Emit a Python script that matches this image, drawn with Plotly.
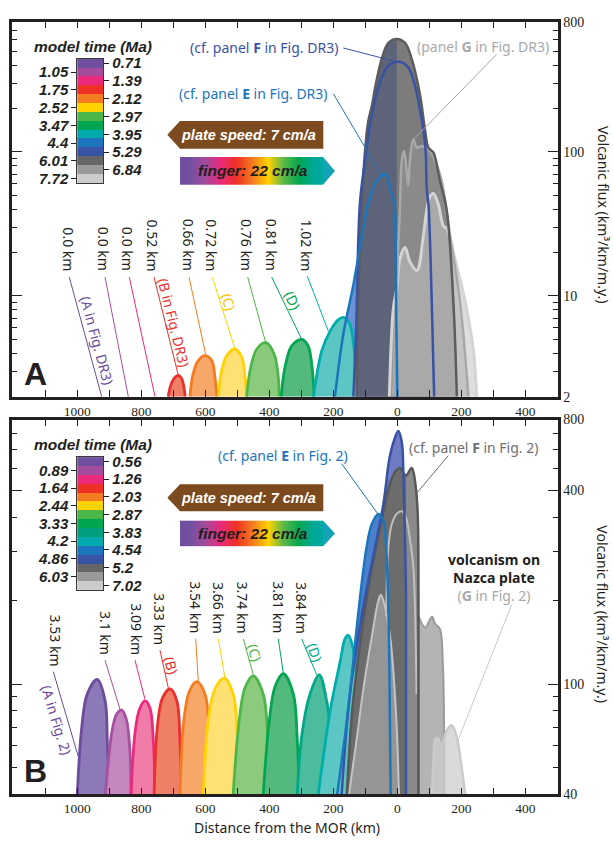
import plotly.graph_objects as go

W, H = 613, 842
SANS = "Noto Sans"
SERIF = "Liberation Serif"
ARIAL = "Liberation Sans"
INK = "#231f20"

# ---------------- colours ----------------
PURPLE, PURPLE_F = "#6b4c9a", "#8d79b7"
VIOLET, VIOLET_F = "#a84f9f", "#c386be"
PINK, PINK_F = "#ec2a7c", "#f17ca9"
RED, RED_F = "#e9302d", "#ef7f66"
ORANGE, ORANGE_F = "#f47b20", "#f7a869"
YELLOW, YELLOW_F = "#ffd200", "#ffe073"
LGREEN, LGREEN_F = "#4cb748", "#8cca7e"
GREEN, GREEN_F = "#00a651", "#53b97f"
TGREEN, TGREEN_F = "#00a888", "#4bbc9d"
TEAL, TEAL_F = "#00adad", "#5cc6c4"
BLUE = "#1b75bc"
DKBLUE = "#3953a4"

A_LEGEND_COLORS = ["#6f4fa0", "#a54c9c", "#ec2a7c", "#ee3124", "#f47b20", "#ffd200", "#4cb748",
                   "#00a651", "#00a9ac", "#1c75bc", "#3953a4", "#666666", "#999999", "#cccccc"]
B_LEGEND_COLORS = ["#6f4fa0", "#a54c9c", "#ec2a7c", "#ee3124", "#f47b20", "#ffd200", "#4cb748",
                   "#00a651", "#00a07f", "#00a9ac", "#1c75bc", "#3953a4", "#666666", "#999999", "#cccccc"]
FINGER_GRADIENT = ["#6f4fa0", "#a04b9c", "#e92a7b", "#ee3124", "#f47b20", "#ffd200", "#5cb848",
                   "#00a651", "#00a9a0"]

# ---------------- legend / tick text ----------------
A_TIME_RIGHT = ["0.71", "1.39", "2.12", "2.97", "3.95", "5.29", "6.84"]
A_TIME_LEFT = ["1.05", "1.75", "2.52", "3.47", "4.4", "6.01", "7.72"]
B_TIME_RIGHT = ["0.56", "1.26", "2.03", "2.87", "3.83", "4.54", "5.2", "7.02"]
B_TIME_LEFT = ["0.89", "1.64", "2.44", "3.33", "4.2", "4.86", "6.03"]

A_DEPTH_LABELS = ["0.0 km", "0.0 km", "0.0 km", "0.52 km", "0.66 km", "0.72 km", "0.76 km", "0.81 km", "1.02 km"]
B_DEPTH_LABELS = ["3.53 km", "3.1 km", "3.09 km", "3.33 km", "3.54 km", "3.66 km", "3.74 km", "3.81 km", "3.84 km"]

X_TICKS = [1000, 800, 600, 400, 200, 0, -200, -400]
X_TICKTEXT = ["1000", "800", "600", "400", "200", "0", "200", "400"]
X_MINOR = [1100, 900, 700, 500, 300, 100, -100, -300]

A_Y_TICKS = [2, 10, 100, 800]
A_Y_TICKTEXT = ["2", "10", "100", "800"]
A_Y_MINOR = [3, 4, 5, 6, 7, 8, 9, 20, 30, 40, 50, 60, 70, 80, 90, 200, 300, 400, 500, 600, 700]
B_Y_TICKS = [40, 100, 500, 900]
B_Y_TICKTEXT = ["40", "100", "400", "800"]
B_Y_MINOR = [50, 60, 70, 80, 90, 200, 300, 400, 600, 700, 800]

A_FLOOR, A_TOP = 2, 800
B_FLOOR, B_TOP = 40, 900

# ---------------- panel A data (distance km, left of MOR positive; flux) ----------------
A_RED_D = [716, 708, 698, 684, 674, 667, 663]
A_RED_V = [2, 2.4, 2.67, 2.81, 2.67, 2.34, 2]
A_ORANGE_D = [648, 638, 622, 601, 580, 570, 564]
A_ORANGE_V = [2, 2.89, 3.56, 3.85, 3.56, 2.74, 2]
A_YELLOW_D = [559, 549, 533, 507, 486, 476, 471]
A_YELLOW_V = [2, 3.04, 3.85, 4.28, 3.75, 2.74, 2]
A_LGREEN_D = [471, 458, 439, 411, 385, 372, 369]
A_LGREEN_V = [2, 3.2, 4.28, 4.74, 3.95, 2.74, 2]
A_GREEN_D = [363, 351, 330, 299, 279, 267, 260]
A_GREEN_V = [2, 3.2, 4.51, 5.0, 4.51, 3.29, 2]
A_TEAL_D = [262, 236, 210, 184, 169, 150, 137, 129, 125]
A_TEAL_V = [2, 4.17, 5.7, 6.85, 7.1, 6.5, 4.63, 2.89, 2]
A_BLUE_D = [195, 169, 137.5, 111, 91, 70, 49, 35, 21, 10, 4, 0]
A_BLUE_V = [2, 5.4, 11.9, 26, 44, 60, 68.5, 69.6, 54, 44, 9.1, 2]
A_DKBLUE_D = [137.5, 129, 117, 101, 80, 54, 28, -5, -34, -55, -73, -87, -92, -97, -107.5, -115]
A_DKBLUE_V = [2, 5.7, 43.9, 86.7, 181, 305, 396, 422, 386, 289, 181, 113, 54, 43.9, 9.1, 2]
A_DKGREY_D = [127, 122, 111, 101, 91, 79, 70, 49, 28, 2, -24, -45, -71, -87, -97, -112.5, -133, -154, -175, -186]
A_DKGREY_V = [2, 9.1, 41.7, 101.5, 163, 211, 275, 440, 571, 608, 571, 440, 247, 139, 107, 99, 63, 39.5, 9.1, 2]
A_MGREY_D = [13, 4, -2, -8, -14, -21, -29, -34, -40, -50, -61, -76, -97, -133, -165, -196, -222]
A_MGREY_V = [2, 9.1, 20, 39.5, 87, 101.5, 74, 58.6, 91.5, 122, 107, 110, 104, 70, 26, 9.1, 2]
A_LGREY_D = [25, 12.5, 2, -8, -24, -40, -61, -81, -92, -102, -112.5, -127, -144, -155, -180, -212, -237.5, -248]
A_LGREY_V = [2, 8.2, 11.3, 18, 21.7, 17.1, 15, 26, 39.5, 49, 51.4, 43.9, 30.5, 29.2, 18, 9.1, 4.2, 2]

# ---------------- panel B data ----------------
B_PURPLE_D = [1000, 986, 969, 938, 913, 906, 900]
B_PURPLE_V = [40, 70, 92, 104, 87, 61, 40]
B_VIOLET_D = [912, 893, 877, 861, 846, 835, 832]
B_VIOLET_V = [40, 66, 78, 80.5, 74, 56, 40]
B_PINK_D = [832, 820, 806, 788, 773, 762, 757]
B_PINK_V = [40, 66, 81, 87, 82, 61, 40]
B_RED_D = [760, 750, 734, 710, 689, 679, 674]
B_RED_V = [40, 70, 89, 96, 87, 61, 40]
B_ORANGE_D = [679, 667, 650, 627, 601, 588, 583]
B_ORANGE_V = [40, 74, 94, 102, 92, 66, 40]
B_YELLOW_D = [606, 591, 570, 541, 513, 500, 497]
B_YELLOW_V = [40, 74, 96, 105, 92, 66, 40]
B_LGREEN_D = [513, 494, 476, 450, 419, 405, 400]
B_LGREEN_V = [40, 74, 97, 107, 92, 64, 40]
B_GREEN_D = [419, 400, 382, 356, 325, 313, 307]
B_GREEN_V = [40, 74, 98, 109, 92, 64, 40]
B_TGREEN_D = [313, 298, 273, 244, 221, 205, 195]
B_TGREEN_V = [40, 66, 92, 108, 87, 61, 40]
B_TEAL_D = [247, 210, 179, 163, 153, 138, 122, 111, 106]
B_TEAL_V = [40, 80, 120, 146, 150, 134, 85, 53, 40]
B_BLUE_D = [188, 163, 142, 123, 96, 80, 59, 44, 35, 27.5, 24, 21]
B_BLUE_V = [40, 66, 108, 176, 312, 377, 411, 388, 312, 176, 92, 40]
B_DKBLUE_D = [174, 148, 106, 44, 25, 9, -3, -14, -19, -24, -27, -27]
B_DKBLUE_V = [40, 92, 191, 444, 649, 764, 818, 744, 567, 329, 207, 40]
B_DKGREY_D = [158, 142, 117, 95, 67, 44, 23, 4, -8, -27, -45, -58, -64, -66, -66]
B_DKGREY_V = [40, 78, 138, 207, 312, 416, 530, 589, 602, 565, 602, 508, 398, 207, 40]
B_MGREY_D = [117, 85, 23, -40, -66, -87, -108, -118, -133, -142, -146, -147]
B_MGREY_V = [40, 150, 244, 225, 176, 160, 175, 165, 158, 120, 70, 40]
B_LGREY_D = [-108, -113, -118, -125, -139, -154, -170, -186, -201, -212]
B_LGREY_V = [40, 53, 63, 64, 60, 68, 71, 64, 50, 40]
B_L1_D = [35, 28, 17.5, 2, -14, -27, -40, -50, -55, -60]
B_L1_V = [176, 312, 377, 411, 420, 398, 329, 265, 191, 92]
B_L2_D = [151, 129, 104, 79, 60, 52, 45, 23, 4, -5]
B_L2_V = [40, 61, 100, 150, 199, 210, 202, 150, 78, 40]


def px(x):
    return x / W


def py(y):
    return 1 - y / H


fig = go.Figure()


def hump(d, v, fill=None, line=None, width=2.5, xa="x", ya="y", shape="spline"):
    kw = dict(x=d, y=v, mode="lines", xaxis=xa, yaxis=ya, hoverinfo="skip", showlegend=False)
    if fill is not None:
        kw["fill"] = "toself"
        kw["fillcolor"] = fill
    if line is None:
        kw["line"] = dict(width=0, shape=shape, color="rgba(0,0,0,0)")
    else:
        kw["line"] = dict(width=width, shape=shape, color=line)
    fig.add_trace(go.Scatter(**kw))


# ---------- Panel A ----------
for d, v, f, l in [(A_RED_D, A_RED_V, RED_F, RED), (A_ORANGE_D, A_ORANGE_V, ORANGE_F, ORANGE),
                   (A_YELLOW_D, A_YELLOW_V, YELLOW_F, YELLOW), (A_LGREEN_D, A_LGREEN_V, LGREEN_F, LGREEN),
                   (A_GREEN_D, A_GREEN_V, GREEN_F, GREEN)]:
    hump(d, v, f, l, width=2.8)
hump(A_BLUE_D, A_BLUE_V, "#6b91d6")
hump(A_DKBLUE_D, A_DKBLUE_V, "#5a72c0")
hump(A_TEAL_D, A_TEAL_V, TEAL_F, TEAL, width=2.8)
hump(A_DKGREY_D, A_DKGREY_V, "#7c7c7c")
hump(A_DKGREY_D[:10] + [A_DKGREY_D[9]], A_DKGREY_V[:10] + [A_FLOOR], "#5d6479", shape="linear")
hump(A_MGREY_D, A_MGREY_V, "rgba(150,150,150,0.55)")
hump(A_LGREY_D, A_LGREY_V, "rgba(195,195,195,0.55)")
hump(A_LGREY_D, A_LGREY_V, None, "#d4d4d4", 3)
hump(A_MGREY_D, A_MGREY_V, None, "#a8a8a8", 2.5)
hump(A_DKGREY_D, A_DKGREY_V, None, "#5c5c5c", 2.5)
hump(A_DKBLUE_D, A_DKBLUE_V, None, DKBLUE, 2.5)
hump(A_BLUE_D, A_BLUE_V, None, BLUE, 2.5)

# ---------- Panel B ----------
for d, v, f, l in [(B_PURPLE_D, B_PURPLE_V, PURPLE_F, PURPLE), (B_VIOLET_D, B_VIOLET_V, VIOLET_F, VIOLET),
                   (B_PINK_D, B_PINK_V, PINK_F, PINK), (B_RED_D, B_RED_V, RED_F, RED),
                   (B_ORANGE_D, B_ORANGE_V, ORANGE_F, ORANGE), (B_YELLOW_D, B_YELLOW_V, YELLOW_F, YELLOW),
                   (B_LGREEN_D, B_LGREEN_V, LGREEN_F, LGREEN), (B_GREEN_D, B_GREEN_V, GREEN_F, GREEN),
                   (B_TGREEN_D, B_TGREEN_V, TGREEN_F, TGREEN)]:
    hump(d, v, f, l, width=2.8, xa="x2", ya="y2")
hump(B_DKBLUE_D, B_DKBLUE_V, "#6f7cc4", xa="x2", ya="y2")
hump(B_BLUE_D, B_BLUE_V, "#4b80cc", xa="x2", ya="y2")
hump(B_TEAL_D, B_TEAL_V, TEAL_F, TEAL, width=2.8, xa="x2", ya="y2")
hump(B_MGREY_D, B_MGREY_V, "#b4b4b4", "#9a9a9a", 2, xa="x2", ya="y2")
hump(B_LGREY_D, B_LGREY_V, "rgba(205,205,205,0.75)", "#cbcbcb", 2.5, xa="x2", ya="y2")
hump(B_DKGREY_D, B_DKGREY_V, "#6c6c6c", xa="x2", ya="y2")
hump([B_DKGREY_D[9]] + B_DKGREY_D[9:], [B_FLOOR] + B_DKGREY_V[9:], "#8a8a8a", xa="x2", ya="y2", shape="linear")
hump(B_L2_D, B_L2_V, "rgba(200,200,200,0.45)", "#c4c4c4", 2, xa="x2", ya="y2")
hump(B_L1_D, B_L1_V, None, "#c0c0c0", 2, xa="x2", ya="y2")
hump(B_DKGREY_D, B_DKGREY_V, None, "#585858", 2.5, xa="x2", ya="y2")
hump(B_DKBLUE_D, B_DKBLUE_V, None, DKBLUE, 2.5, xa="x2", ya="y2")
hump(B_BLUE_D, B_BLUE_V, None, BLUE, 2.5, xa="x2", ya="y2")


# ---------- legends (discrete colour bars) ----------
def legend_heatmap(colors, xa, ya):
    n = len(colors)
    cs = []
    for i, c in enumerate(colors):
        cs += [[i / n, c], [(i + 1) / n, c]]
    fig.add_trace(go.Heatmap(z=[[i + 0.5] for i in range(n)], x=[0], y=list(range(n)), zmin=0, zmax=n,
                             colorscale=cs, showscale=False, xaxis=xa, yaxis=ya, hoverinfo="skip"))


legend_heatmap(A_LEGEND_COLORS, "x3", "y3")
legend_heatmap(A_LEGEND_COLORS, "x3", "y4")
legend_heatmap(B_LEGEND_COLORS, "x4", "y5")
legend_heatmap(B_LEGEND_COLORS, "x4", "y6")

# ---------- finger gradient bars ----------
ng = len(FINGER_GRADIENT)
gcs = [[i / (ng - 1), c] for i, c in enumerate(FINGER_GRADIENT)]
for xa, ya in [("x5", "y7"), ("x6", "y8")]:
    fig.add_trace(go.Heatmap(z=[list(range(ng))], x=list(range(ng)), y=[0], zmin=0, zmax=ng - 1,
                             colorscale=gcs, zsmooth="best", showscale=False, xaxis=xa, yaxis=ya,
                             hoverinfo="skip"))

# ---------- axes ----------
XL, XR = 12, 557.7
A_TOP_PX, A_BOT_PX = 15, 396.7
B_TOP_PX, B_BOT_PX = 420, 801.7

xcommon = dict(range=[1204, -501], tickmode="array", tickvals=X_TICKS, ticktext=X_TICKTEXT,
               ticks="inside", ticklen=7, tickwidth=1.3, tickcolor=INK, showline=True, linewidth=2.5,
               linecolor=INK, mirror="ticks", showgrid=False, zeroline=False,
               tickfont=dict(family=SERIF, size=13.5, color=INK),
               minor=dict(tickmode="array", tickvals=X_MINOR, ticks="inside", ticklen=7, tickwidth=1.3,
                          tickcolor=INK, showgrid=False))


def ycommon(lo, hi, tv, tt, mv):
    import math
    return dict(type="log", range=[math.log10(lo), math.log10(hi)], side="right", tickmode="array",
                tickvals=tv, ticktext=tt, ticks="inside", ticklen=10, tickwidth=1.3, tickcolor=INK,
                showline=True, linewidth=2.5, linecolor=INK, mirror="ticks", showgrid=False,
                zeroline=False, tickfont=dict(family=SERIF, size=14, color=INK),
                minor=dict(tickmode="array", tickvals=mv, ticks="inside", ticklen=5, tickwidth=1.2,
                           tickcolor=INK, showgrid=False))


def leg_y(top, bot, n, side, tv, tt, overlay=None, anchor="x3"):
    d = dict(domain=[py(bot), py(top)], anchor=anchor, range=[n - 0.5, -0.5], side=side,
             tickmode="array", tickvals=tv, ticktext=["<b><i>%s</i></b>" % t for t in tt],
             ticks="outside", ticklen=5, tickwidth=1, tickcolor=INK, showgrid=False, zeroline=False,
             showline=True, linecolor="#3a3a3a", linewidth=1,
             tickfont=dict(family=ARIAL, size=15, color=INK))
    if overlay:
        d["overlaying"] = overlay
    return d


hidden = dict(visible=False, showgrid=False, zeroline=False)

nA, nB = len(A_LEGEND_COLORS), len(B_LEGEND_COLORS)
fig.update_layout(
    xaxis=dict(domain=[px(XL), px(XR)], anchor="y", **xcommon),
    yaxis=dict(domain=[py(A_BOT_PX), py(A_TOP_PX)], anchor="x",
               **ycommon(A_FLOOR, A_TOP, A_Y_TICKS, A_Y_TICKTEXT, A_Y_MINOR)),
    xaxis2=dict(domain=[px(XL), px(XR)], anchor="y2", **xcommon),
    yaxis2=dict(domain=[py(B_BOT_PX), py(B_TOP_PX)], anchor="x2",
                **ycommon(B_FLOOR, B_TOP, B_Y_TICKS, B_Y_TICKTEXT, B_Y_MINOR)),
    xaxis3=dict(domain=[px(77.3), px(103.3)], anchor="y3", range=[-0.5, 0.5], showticklabels=False,
                ticks="", showgrid=False, zeroline=False, showline=True, mirror=True,
                linecolor="#3a3a3a", linewidth=1),
    yaxis3=leg_y(52.7, 179.3, nA, "left", list(range(1, nA, 2)), A_TIME_LEFT),
    yaxis4=leg_y(52.7, 179.3, nA, "right", list(range(0, nA, 2)), A_TIME_RIGHT, overlay="y3"),
    xaxis4=dict(domain=[px(77.3), px(103.3)], anchor="y5", range=[-0.5, 0.5], showticklabels=False,
                ticks="", showgrid=False, zeroline=False, showline=True, mirror=True,
                linecolor="#3a3a3a", linewidth=1),
    yaxis5=leg_y(458.3, 593.3, nB, "left", list(range(1, nB, 2)), B_TIME_LEFT, anchor="x4"),
    yaxis6=leg_y(458.3, 593.3, nB, "right", list(range(0, nB, 2)), B_TIME_RIGHT, overlay="y5", anchor="x4"),
    xaxis5=dict(domain=[px(180), px(323.3)], anchor="y7", range=[-0.5, ng - 0.5], **hidden),
    yaxis7=dict(domain=[py(181), py(152.7)], anchor="x5", range=[-0.5, 0.5], **hidden),
    xaxis6=dict(domain=[px(180), px(323.3)], anchor="y8", range=[-0.5, ng - 0.5], **hidden),
    yaxis8=dict(domain=[py(549.3), py(522.7)], anchor="x6", range=[-0.5, 0.5], **hidden),
)

# ---------- shapes ----------
shapes = []


def seg(x0, y0, x1, y1, color, width=1.0):
    shapes.append(dict(type="line", xref="paper", yref="paper", x0=px(x0), y0=py(y0), x1=px(x1),
                       y1=py(y1), line=dict(color=color, width=width), layer="above"))


def poly(points, color):
    path = "M " + " L ".join("%.5f,%.5f" % (px(x), py(y)) for x, y in points) + " Z"
    shapes.append(dict(type="path", xref="paper", yref="paper", path=path, fillcolor=color,
                       line=dict(width=0), layer="above"))


BROWN = "#7b4a1f"
TIP = "#14a2b6"
for top, bot in [(116, 144.3), (486, 513.3)]:
    mid = (top + bot) / 2
    poly([(167.3, mid), (180, top), (323.3, top), (323.3, bot), (180, bot)], BROWN)
for top, bot in [(152.7, 181), (522.7, 549.3)]:
    mid = (top + bot) / 2
    poly([(323.0, top), (335, mid), (323.0, bot)], TIP)

# leader lines
A_LEADERS = [(PURPLE, 69.3, 275, 101.7, 396.7), (VIOLET, 105, 275, 128.3, 396.7), (PINK, 129.3, 275, 155, 396.7),
             (RED, 154, 275, 178.3, 375), (ORANGE, 189, 275, 205.7, 354), (YELLOW, 212.3, 275, 235, 348.3),
             (LGREEN, 247.7, 275, 265.7, 341.7), (GREEN, 271.7, 275, 301.7, 338.3), (TEAL, 307.3, 274, 328.3, 330)]
B_LEADERS = [(PURPLE, 53.3, 676.7, 78.3, 763.3), (VIOLET, 105, 665, 120, 715), (PINK, 135, 665, 145, 705),
             (RED, 160, 655, 168.3, 693.3), (ORANGE, 195.7, 643.3, 198.3, 686.7), (YELLOW, 218.3, 643.3, 225, 683.3),
             (LGREEN, 243.3, 643.3, 253.3, 680), (GREEN, 278.3, 643.3, 283.3, 678.3),
             (TGREEN, 301.7, 643.3, 316.7, 680)]
for c, x0, y0, x1, y1 in A_LEADERS + B_LEADERS:
    seg(x0, y0, x1, y1, c, 1)
seg(343.3, 41.7, 400, 56.7, DKBLUE, 1)
seg(333.3, 88.3, 382.7, 173.3, BLUE, 1)
seg(496.7, 48.3, 413.3, 135, "#a8a8a8", 1)
seg(341.7, 465, 378.3, 516.7, BLUE, 1)
seg(448.3, 456.7, 416.7, 495, "#6d6e71", 1)
seg(511.7, 608.3, 456.7, 750, "#c8c8c8", 1)

# ---------- annotations ----------
anns = []


def ann(text, x, y, size=14, color=INK, angle=0, xanchor="center", yanchor="middle", family=SANS):
    anns.append(dict(text=text, x=px(x), y=py(y), xref="paper", yref="paper", showarrow=False,
                     textangle=angle, xanchor=xanchor, yanchor=yanchor,
                     font=dict(family=family, size=size, color=color)))


for t, x in zip(A_DEPTH_LABELS, [68.8, 104.3, 128.3, 152.6, 188.4, 211.8, 247.2, 271.4, 306.7]):
    ann(t, x, 271, angle=90, yanchor="bottom")
for t, x, b in zip(B_DEPTH_LABELS, [55.8, 105, 135.7, 160, 195.3, 218.7, 242, 278.3, 301.7],
                   [673.3, 661.7, 661.7, 651.7, 640, 640, 640, 640, 640]):
    ann(t, x, b, angle=90, yanchor="bottom")

ann("(A in Fig. DR3)", 96.7, 340, color=PURPLE, angle=75)
ann("(B in Fig. DR3)", 174, 321, color=RED, angle=76)
ann("(C)", 228.3, 300, color="#f5c400", angle=72)
ann("(D)", 292.5, 299, color=GREEN, angle=64)
ann("(A in Fig. 2)", 57, 726, color=PURPLE, angle=73)
ann("(B)", 171.5, 670, color=RED, angle=75)
ann("(C)", 255, 656.7, color=LGREEN, angle=75)
ann("(D)", 315, 656.7, color=TGREEN, angle=70)

ann("(cf. panel <b>F</b> in Fig. DR3)", 188, 41.7, color=DKBLUE, xanchor="left")
ann("(cf. panel <b>E</b> in Fig. DR3)", 177, 88, color=BLUE, xanchor="left")
ann("(panel <b>G</b> in Fig. DR3)", 415, 40.5, color="#a7a9ac", xanchor="left")
ann("(cf. panel <b>E</b> in Fig. 2)", 216, 456.7, color=BLUE, xanchor="left")
ann("(cf. panel <b>F</b> in Fig. 2)", 406.7, 448.3, color="#6d6e71", xanchor="left")
ann("<b>volcanism on</b><br><b>Nazca plate</b><br><span style='color:#a7a9ac'>(<b>G</b> in Fig. 2)</span>",
    494.3, 581.3)

ann("<b>A</b>", 35, 373.3, size=32, family=ARIAL)
ann("<b>B</b>", 35, 778.3, size=32, family=ARIAL)

for y in [40, 445]:
    ann("<b><i>model time (Ma)</i></b>", 93.2, y, size=15.5, family=ARIAL)
for y in [130, 499.7]:
    ann("<b><i>plate speed: 7 cm/a</i></b>", 248.5, y, size=14.5, color="white", family=ARIAL)
for y in [166.8, 536]:
    ann("<b><i>finger: 22 cm/a</i></b>", 253, y, size=15.5, family=ARIAL)

ann("Distance from the MOR (km)", 286.7, 835, size=14)
ann("Volcanic flux (km³/km/m.y.)", 603, 211.7, size=14, angle=90)
ann("Volcanic flux (km³/km/m.y.)", 603, 618.3, size=14, angle=90)

fig.update_layout(width=W, height=H, margin=dict(l=0, r=0, t=0, b=0), paper_bgcolor="white",
                  plot_bgcolor="rgba(0,0,0,0)", showlegend=False, shapes=shapes, annotations=anns)

fig.write_html("out.html", config={"displayModeBar": False},
               post_script="document.body.style.margin='0px';document.body.style.overflow='hidden';")
